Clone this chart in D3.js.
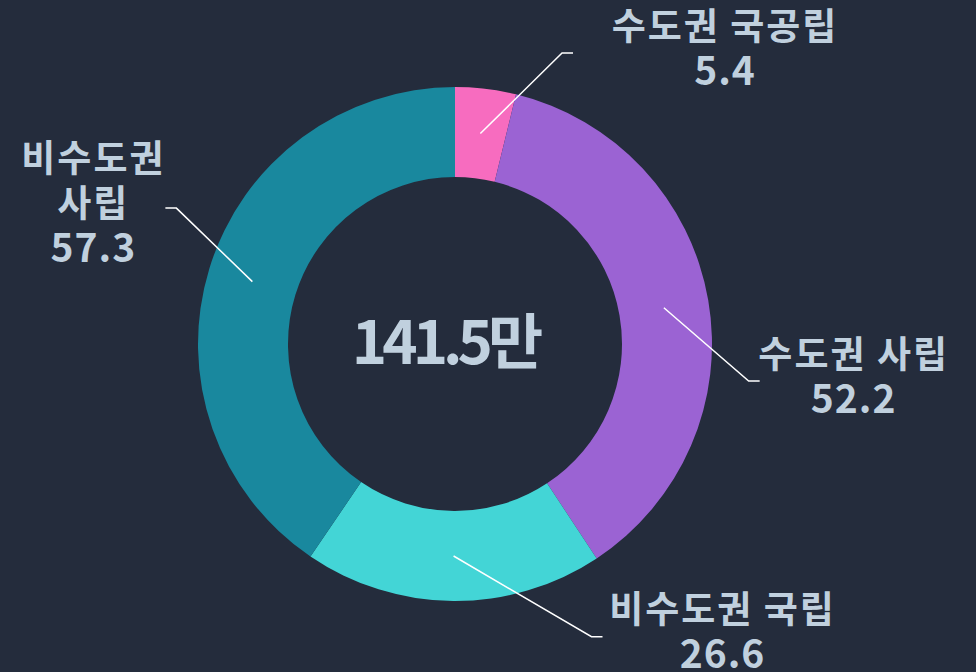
<!DOCTYPE html>
<html>
<head>
<meta charset="utf-8">
<script src="https://d3js.org/d3.v7.min.js"></script>
<style>
  html, body { margin: 0; padding: 0; background: #242c3c; }
  svg { display: block; }
  text { font-family: "Noto Sans CJK KR", "Noto Sans", sans-serif; font-weight: 600; fill: #c0d0de; }
</style>
</head>
<body>
<svg id="chart"></svg>
<script>
// data
const categories = ["수도권 국공립", "수도권 사립", "비수도권 국립", "비수도권 사립"];
const values = [5.4, 52.2, 26.6, 57.3];
const colors = ["#f76cbf", "#9b63d3", "#43d5d6", "#19889e"];
const totalLabel = "141.5만";

const width = 976, height = 672;
const cx = 455, cy = 344;
const outerR = 257, innerR = 167;

// label placement (leader elbow as angle in degrees / radius, text centre offset from line end)
const labelLayout = [
  { angle: 20.2, radius: 310, textDx: 152 },
  { angle: 97.2, radius: 296, textDx: 94 },
  { angle: 155, radius: 323, textDx: 120 },
  { angle: 296, radius: 310, textDx: -72 }
];

const svg = d3.select("#chart").attr("width", width).attr("height", height);
const g = svg.append("g").attr("transform", "translate(" + cx + "," + cy + ")");

const pie = d3.pie().sort(null).value(d => d.value);
const arcs = pie(values.map((v, i) => ({ name: categories[i], value: v, color: colors[i] })));

const arc = d3.arc().innerRadius(innerR).outerRadius(outerR);
const midArc = d3.arc().innerRadius((innerR + outerR) / 2).outerRadius((innerR + outerR) / 2);

g.selectAll("path.slice")
  .data(arcs)
  .enter()
  .append("path")
  .attr("class", "slice")
  .attr("d", arc)
  .attr("fill", d => d.data.color);

// leader lines + labels
arcs.forEach((d, i) => {
  const lay = labelLayout[i];
  const start = midArc.centroid(d);
  const elbow = d3.pointRadial(lay.angle * Math.PI / 180, lay.radius);
  const side = elbow[0] >= 0 ? 1 : -1;
  const end = [elbow[0] + side * 11, elbow[1]];

  g.append("polyline")
    .attr("points", [start, elbow, end].map(p => p.join(",")).join(" "))
    .attr("fill", "none")
    .attr("stroke", "#ffffff")
    .attr("stroke-width", 1.5);

  // left-hand label is narrow, so wrap words
  const rows = side < 0 ? d.data.name.split(" ") : [d.data.name];
  rows.push(String(d.data.value));
  const n = rows.length;
  const lh = 45;

  const t = g.append("text")
    .attr("text-anchor", "middle")
    .style("font-size", "37px")
    .style("letter-spacing", "2px");
  rows.forEach((r, k) => {
    t.append("tspan")
      .attr("x", end[0] + lay.textDx)
      .attr("y", end[1] + 9 + (k - (n - 1) / 2) * lh)
      .style("font-size", k === n - 1 ? "39px" : null)
      .style("letter-spacing", k === n - 1 ? "1px" : null)
      .text(r);
  });
});

// centre total
g.append("text")
  .attr("x", -10)
  .attr("y", 20)
  .attr("text-anchor", "middle")
  .style("font-size", "60px")
  .style("letter-spacing", "-5px")
  .text(totalLabel);
</script>
</body>
</html>
